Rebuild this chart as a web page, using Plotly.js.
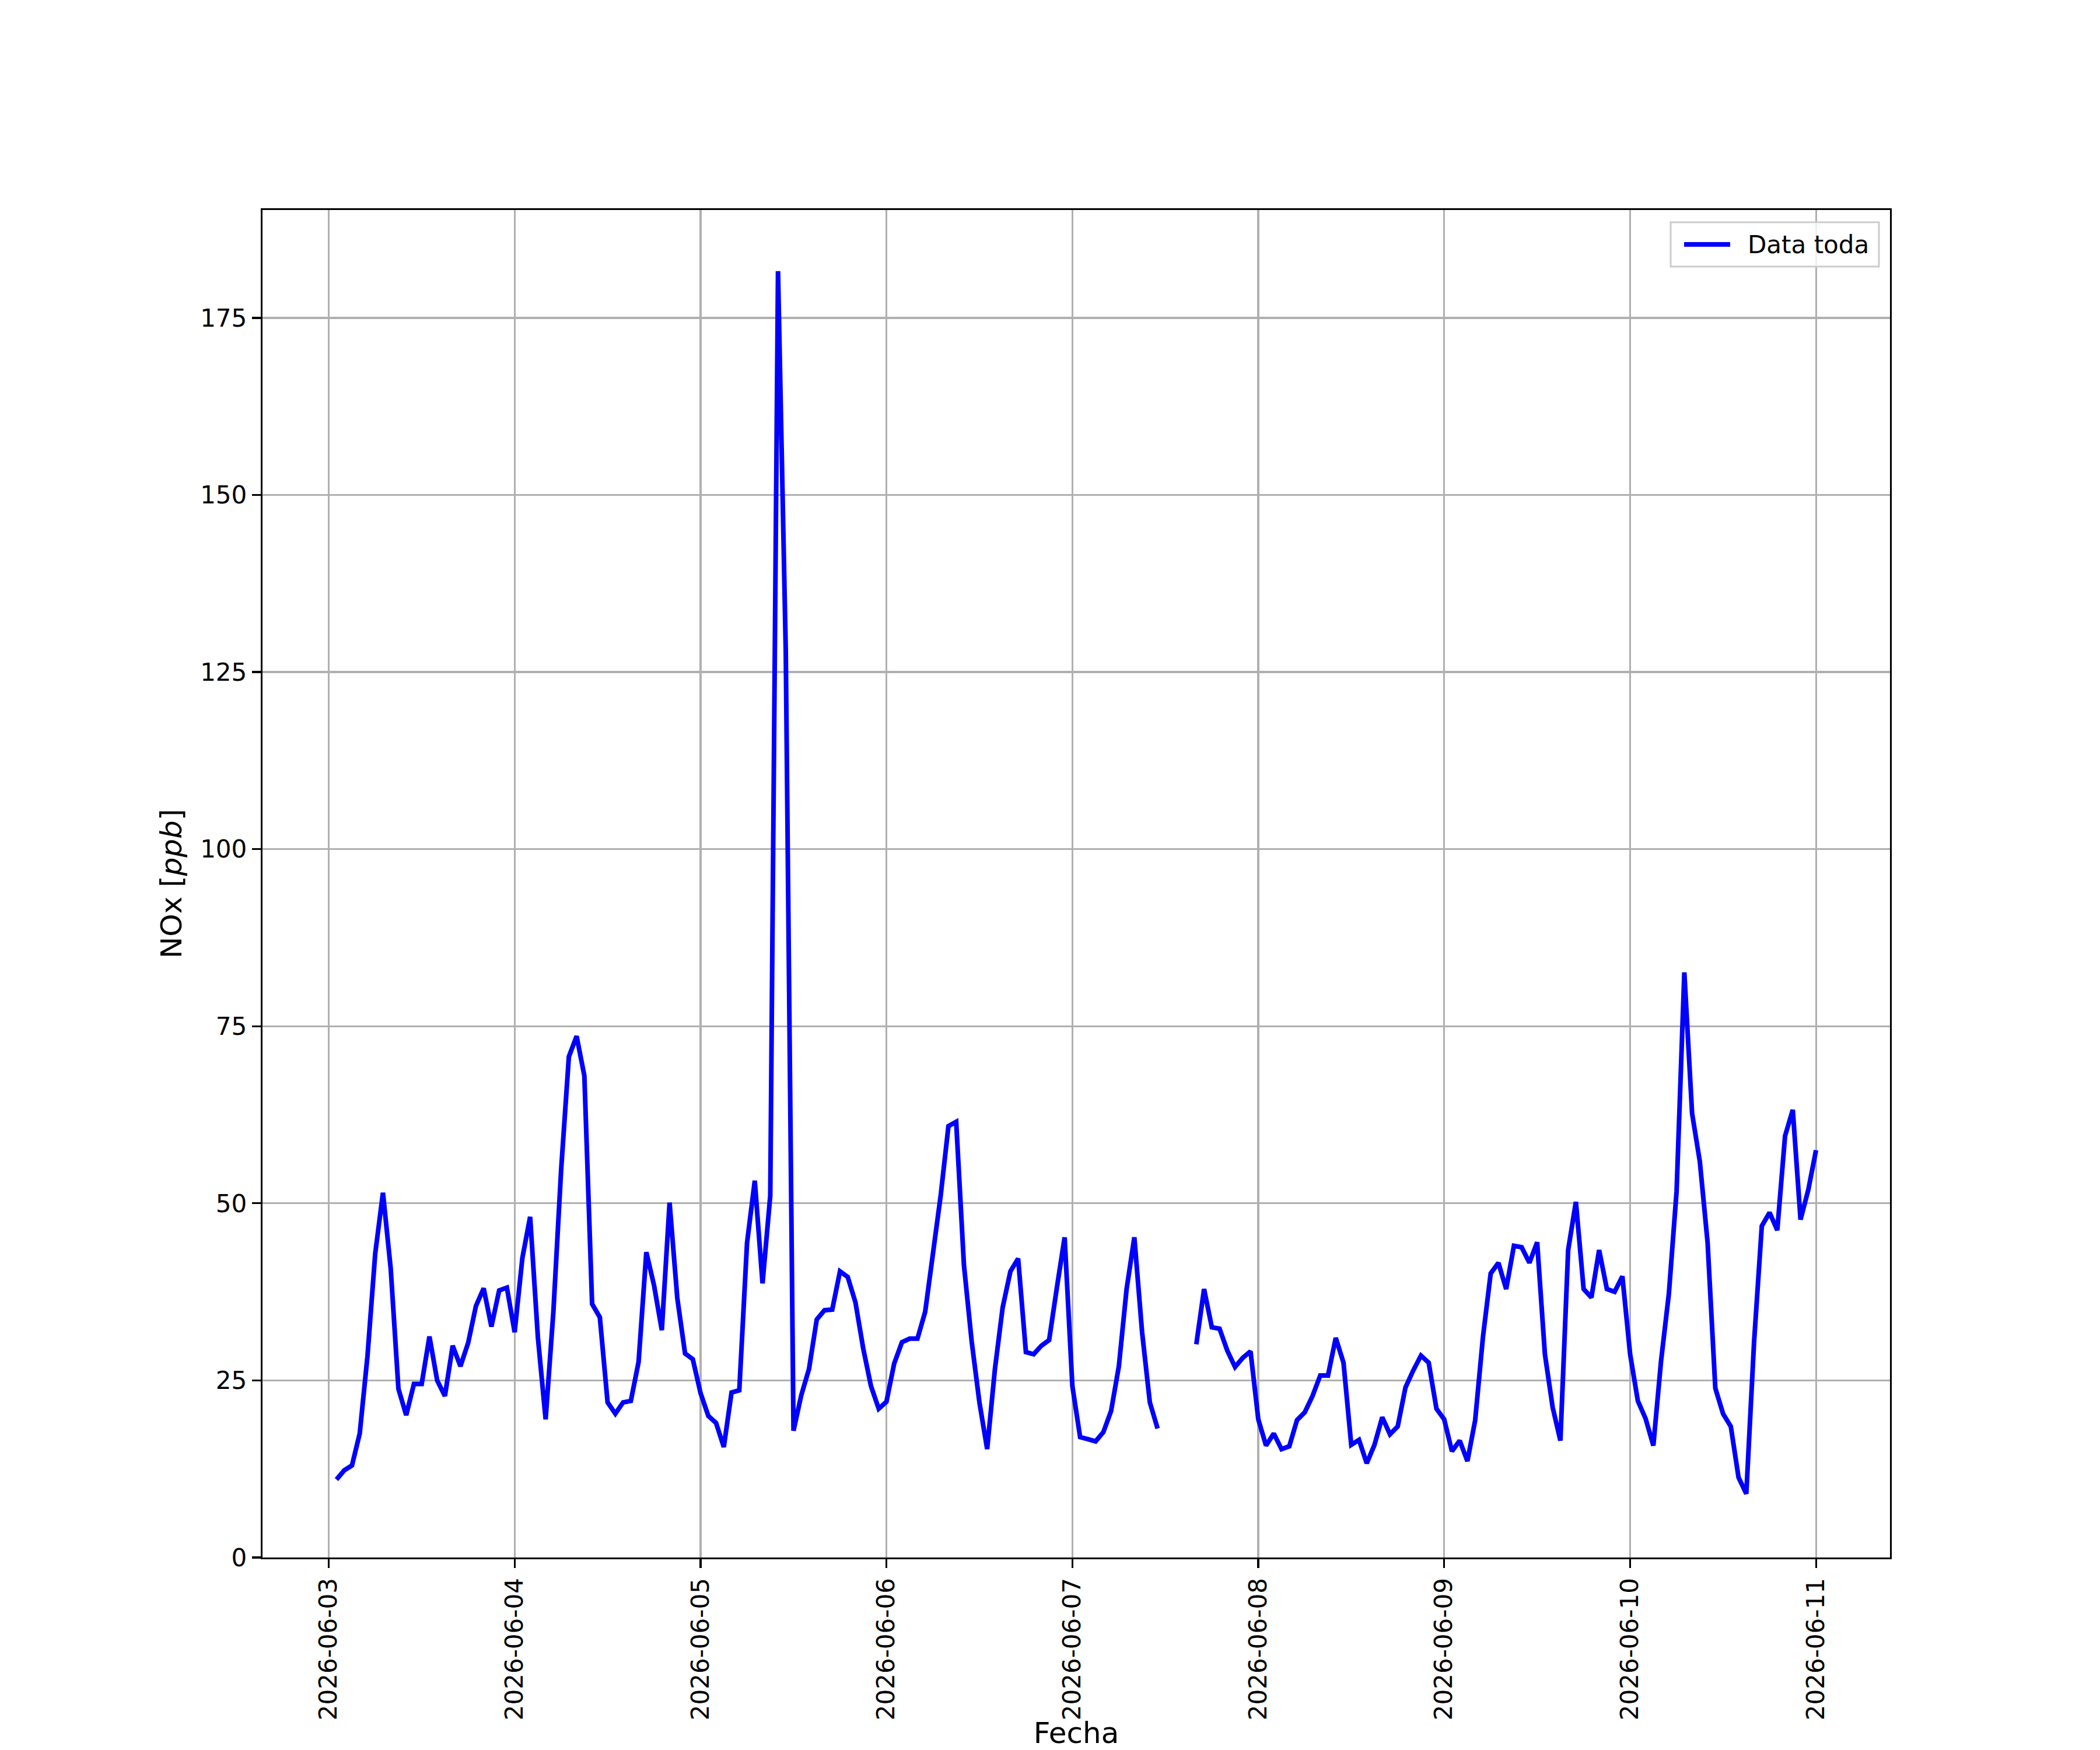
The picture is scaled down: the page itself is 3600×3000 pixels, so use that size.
<!DOCTYPE html>
<html>
<head>
<meta charset="utf-8">
<script src="https://cdn.plot.ly/plotly-3.0.1.min.js"></script>
<style>
  html, body { margin: 0; padding: 0; background: #ffffff; }
  #chart { width: 3600px; height: 3000px; }
</style>
</head>
<body>
<div id="chart"></div>
<script>
// Hourly NOx [ppb]; each array covers 01:00 .. 24:00 (next day 00:00) of the day named
const dayLabels = ['2026-06-03', '2026-06-04', '2026-06-05', '2026-06-06',
                   '2026-06-07', '2026-06-08', '2026-06-09', '2026-06-10'];
const nox0603 = [11.0, 12.3, 13.0, 17.5, 28.4, 42.9, 51.5, 40.8, 23.8, 20.1, 24.5, 24.5,
                 31.2, 25.0, 22.8, 29.9, 27.0, 30.3, 35.5, 38.0, 32.6, 37.7, 38.1, 31.8];
const nox0604 = [42.3, 48.1, 31.1, 19.5, 34.7, 54.7, 70.7, 73.6, 68.0, 35.8, 33.9, 21.9,
                 20.3, 21.9, 22.1, 27.6, 43.1, 38.4, 32.1, 50.1, 36.6, 28.8, 28.0, 23.2];
const nox0605 = [20.0, 19.0, 15.6, 23.3, 23.6, 44.4, 53.2, 38.7, 51.1, 181.6, 128.0, 17.9,
                 22.9, 26.6, 33.6, 34.9, 35.0, 40.4, 39.6, 36.0, 29.5, 24.2, 21.0, 22.0];
const nox0606 = [27.4, 30.4, 30.9, 30.9, 34.7, 42.6, 51.1, 60.9, 61.5, 41.3, 30.5, 21.9,
                 15.3, 26.6, 35.3, 40.4, 42.2, 29.0, 28.7, 29.9, 30.7, 38.1, 45.2, 24.2];
const nox0607 = [17.0, 16.7, 16.4, 17.7, 20.7, 27.0, 37.9, 45.2, 31.8, 21.9, 18.2, null,
                 null, null, null, 30.1, 37.9, 32.5, 32.3, 29.2, 26.9, 28.2, 29.1, 19.5];
const nox0608 = [15.8, 17.5, 15.3, 15.7, 19.4, 20.5, 22.8, 25.7, 25.7, 31.0, 27.5, 15.9,
                 16.6, 13.3, 15.9, 19.8, 17.4, 18.5, 24.0, 26.4, 28.5, 27.5, 21.0, 19.5];
const nox0609 = [15.0, 16.5, 13.6, 19.4, 31.1, 40.1, 41.6, 37.9, 44.0, 43.8, 41.6, 44.5,
                 28.7, 21.2, 16.5, 43.4, 50.2, 37.9, 36.7, 43.4, 37.9, 37.5, 39.7, 28.7];
const nox0610 = [22.1, 19.6, 15.8, 27.8, 37.2, 51.7, 82.6, 62.7, 55.9, 44.5, 23.9, 20.3,
                 18.5, 11.3, 9.0, 30.4, 46.8, 48.7, 46.2, 59.5, 63.2, 47.7, 51.9, 57.5];
const tickDates = ['2026-06-03', '2026-06-04', '2026-06-05', '2026-06-06', '2026-06-07',
                   '2026-06-08', '2026-06-09', '2026-06-10', '2026-06-11'];
const seriesName = 'Data toda';
const xTitle = 'Fecha';
const yTitle = 'NOx [<i>ppb</i>]';
const yTicks = [0, 25, 50, 75, 100, 125, 150, 175];

const dayArrays = [nox0603, nox0604, nox0605, nox0606, nox0607, nox0608, nox0609, nox0610];

function pad(n) { return (n < 10 ? '0' : '') + n; }
function fmt(ms) {
  const d = new Date(ms);
  return d.getUTCFullYear() + '-' + pad(d.getUTCMonth() + 1) + '-' + pad(d.getUTCDate()) +
         ' ' + pad(d.getUTCHours()) + ':' + pad(d.getUTCMinutes());
}
const xs = [], ys = [];
dayArrays.forEach(function (arr, i) {
  const p = dayLabels[i].split('-').map(Number);
  const base = Date.UTC(p[0], p[1] - 1, p[2]);
  arr.forEach(function (v, h) {
    xs.push(fmt(base + (h + 1) * 3600000));
    ys.push(v);
  });
});

// matplotlib-like 5% margins
function toMs(s) {
  const a = s.split(' '), d = a[0].split('-').map(Number), t = a[1].split(':').map(Number);
  return Date.UTC(d[0], d[1] - 1, d[2], t[0], t[1]);
}
const x0 = toMs(xs[0]), x1 = toMs(xs[xs.length - 1]);
const xpad = (x1 - x0) * 0.05;
const vals = ys.filter(function (v) { return v !== null; });
const ymax = Math.max.apply(null, vals), ymin = Math.min.apply(null, vals);
const ytop = ymax + 0.05 * (ymax - ymin);

const FONT = 'DejaVu Sans, Liberation Sans, sans-serif';
const LINE_COLOR = '#0000ff';

// plot area in pixels (for placing the legend box like matplotlib's)
const PL = 450, PR = 3240, PT = 360, PB = 2670;
function px(x) { return (x - PL) / (PR - PL); }
function py(y) { return (PB - y) / (PB - PT); }

const trace = {
  type: 'scatter',
  mode: 'lines',
  x: xs,
  y: ys,
  name: seriesName,
  connectgaps: false,
  line: { color: LINE_COLOR, width: 8 },
  showlegend: false
};

const layout = {
  width: 3600,
  height: 3000,
  paper_bgcolor: '#ffffff',
  plot_bgcolor: '#ffffff',
  font: { family: FONT, size: 42, color: '#000000' },
  margin: { l: PL, r: 3600 - PR, t: PT, b: 3000 - PB, pad: 0 },
  showlegend: false,
  xaxis: {
    type: 'date',
    range: [fmt(x0 - xpad), fmt(x1 + xpad)],
    tickmode: 'array',
    tickvals: tickDates,
    ticktext: tickDates,
    tickangle: -90,
    tickfont: { family: FONT, size: 42, color: '#000000' },
    ticks: 'outside', ticklen: 15, tickwidth: 3.3, tickcolor: '#000000',
    showgrid: true, gridcolor: '#b0b0b0', gridwidth: 3.3,
    showline: true, linecolor: '#000000', linewidth: 3.3, mirror: true,
    zeroline: false,
    automargin: false,
    title: { text: xTitle, font: { family: FONT, size: 50, color: '#000000' }, standoff: 12 }
  },
  yaxis: {
    range: [0, ytop],
    tickmode: 'array',
    tickvals: yTicks,
    ticktext: yTicks.map(String),
    tickfont: { family: FONT, size: 42, color: '#000000' },
    ticks: 'outside', ticklen: 15, tickwidth: 3.3, tickcolor: '#000000',
    showgrid: true, gridcolor: '#b0b0b0', gridwidth: 3.3,
    showline: true, linecolor: '#000000', linewidth: 3.3, mirror: true,
    zeroline: false,
    automargin: false,
    title: { text: yTitle, font: { family: FONT, size: 50, color: '#000000' }, standoff: 16 }
  },
  shapes: [
    { type: 'rect', xref: 'paper', yref: 'paper',
      x0: px(2864), x1: px(3221), y0: py(457), y1: py(381),
      fillcolor: 'rgba(255,255,255,0.8)', line: { color: '#cccccc', width: 3 }, layer: 'above' },
    { type: 'line', xref: 'paper', yref: 'paper',
      x0: px(2887), x1: px(2966), y0: py(419), y1: py(419),
      line: { color: LINE_COLOR, width: 8 }, layer: 'above' }
  ],
  annotations: [
    { xref: 'paper', yref: 'paper', x: px(2994), y: py(419),
      xanchor: 'left', yanchor: 'middle', showarrow: false,
      text: seriesName, font: { family: FONT, size: 42, color: '#000000' } }
  ]
};

Plotly.newPlot('chart', [trace], layout, { displayModeBar: false, staticPlot: true });
</script>
</body>
</html>
